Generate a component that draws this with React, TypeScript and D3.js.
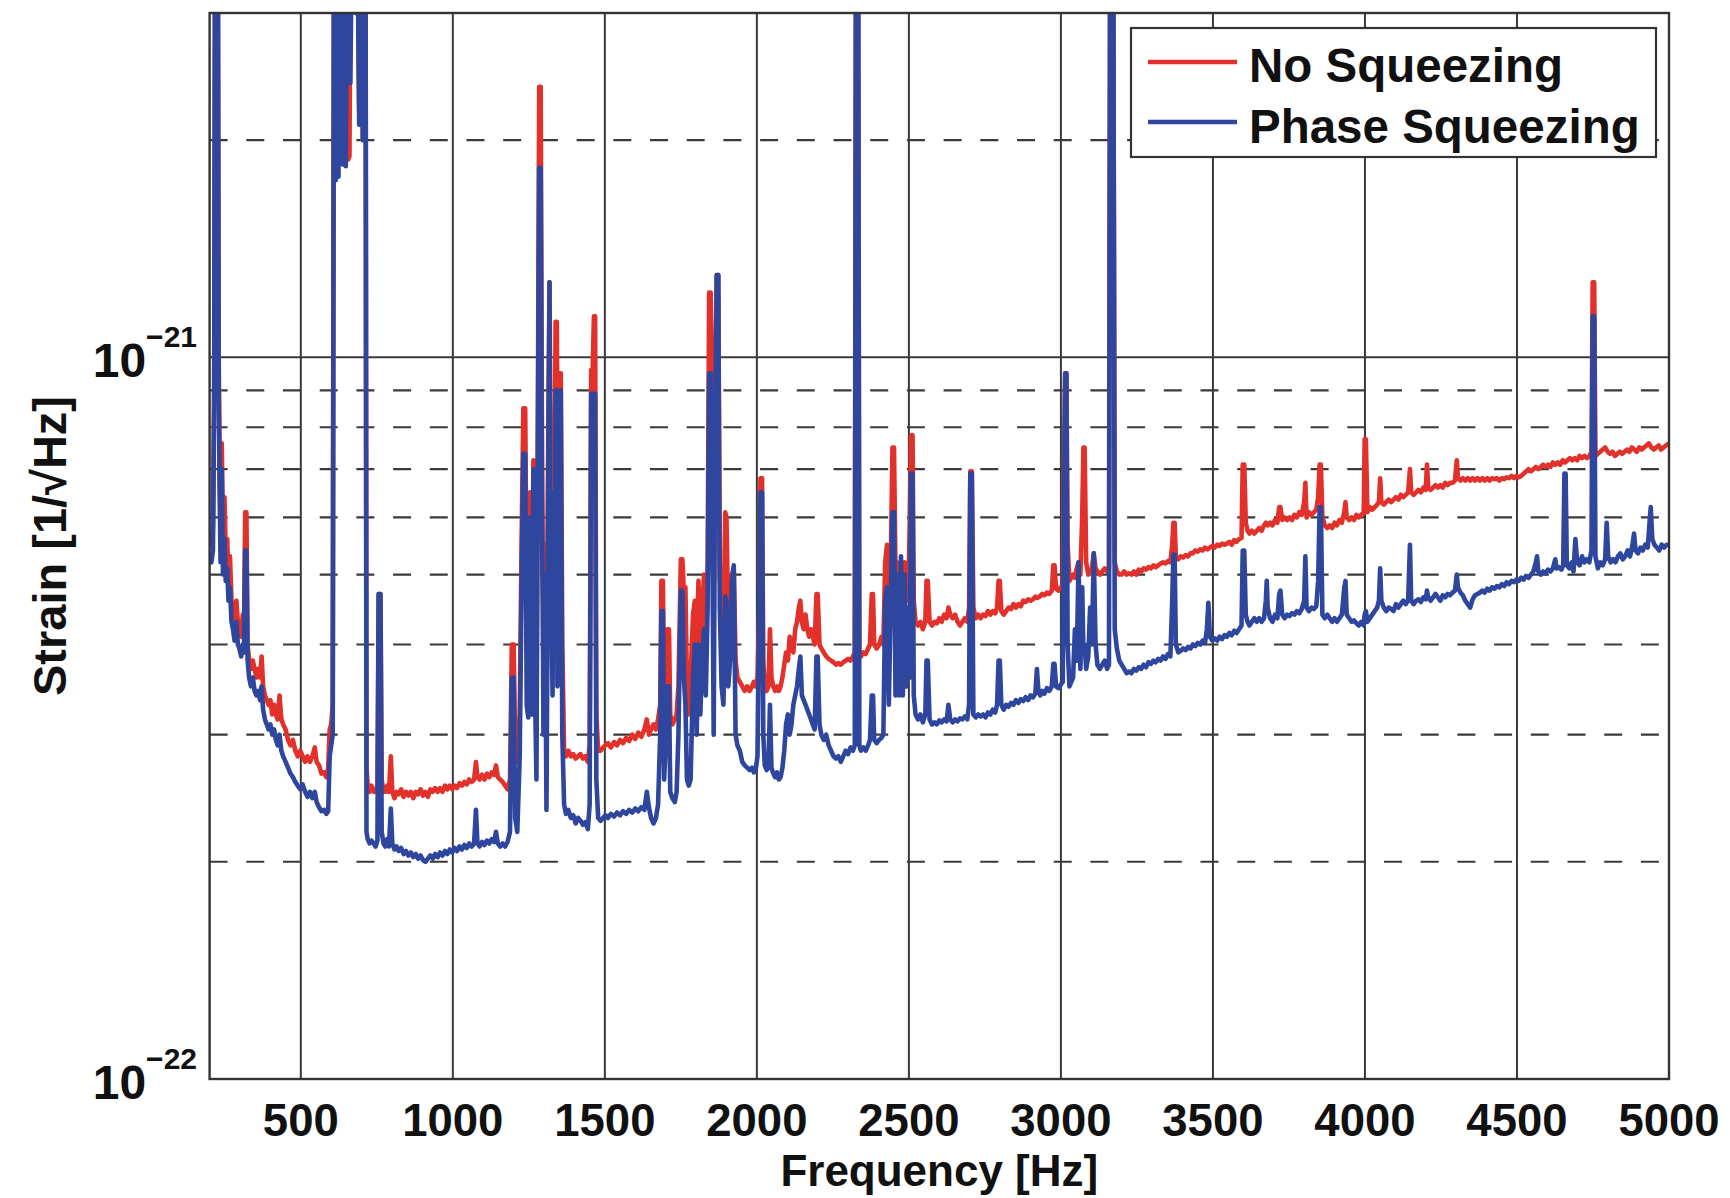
import React from 'react';
import * as d3 from 'd3';

// Frequency ticks (Hz)
const xTicks = [500, 1000, 1500, 2000, 2500, 3000, 3500, 4000, 4500, 5000];
// Strain grid levels
const yMajor = [1e-22, 1e-21];
const yMinor = [2e-22, 3e-22, 4e-22, 5e-22, 6e-22, 7e-22, 8e-22, 9e-22, 2e-21];
const yTickLabels = [
  { v: 1e-22, exp: '\u221222' },
  { v: 1e-21, exp: '\u221221' },
];
const legendLabels = ['No Squeezing', 'Phase Squeezing'];
const seriesColors = ['#e2302a', '#2f469f'];

// Values are in units of 1e-22 strain/sqrt(Hz): [frequency Hz, value]
const noSqueezing: [number, number][] = [
  [200,5.6],[206,5.5],[211,5.8],[215,9],[218,40],[227,40],[230,10],[233,7.2],[236,5.6],[240,7.6],[244,5.7],[249,6.4],[253,5.4],[258,5.6],[262,4.9],[267,5.3],[272,4.6],[277,4.5],[282,4.3],[288,4.6],[293,4.3],[298,4.2],[304,4.1],[309,4.4],[313,4.2],[317,6.1],[321,6.1],[325,4.0],[330,3.8],[336,3.7],[342,3.8],[348,3.7],[354,3.6],[360,3.7],[366,3.6],[371,3.85],[376,3.5],[382,3.4],[388,3.35],[394,3.3],[400,3.35],[406,3.2],[412,3.3],[418,3.2],[424,3.15],[430,3.4],[436,3.15],[442,3.1],[450,3.05],[458,2.95],[466,2.9],[474,2.95],[482,2.85],[490,2.8],[498,2.85],[506,2.8],[514,2.75],[522,2.8],[530,2.75],[538,2.8],[546,2.88],[552,2.75],[560,2.72],[568,2.65],[576,2.66],[584,2.62],[590,2.7],[595,3.05],[600,3.1],[605,3.3],
  [609,40],[615,19],[619,40],[624,18.5],[628,40],[633,40],[638,19.5],[643,40],[648,20],[652,40],[656,18.8],[660,19],[664,40],[668,40],[675,40],[680,30],[686,40],[692,22],[698,40],[704,20],[709,40],[713,40],[716,2.7],
  [720,2.55],[726,2.5],[732,2.55],[740,2.5],[746,2.5],[752,2.55],[756,4.7],[762,4.7],[766,2.6],[772,2.5],[778,2.5],[784,2.55],[790,2.5],[796,2.8],[801,2.5],[808,2.45],[815,2.5],[822,2.48],[830,2.52],[838,2.46],[846,2.5],[854,2.47],[862,2.5],[870,2.45],[878,2.5],[886,2.48],[894,2.52],[902,2.47],[910,2.5],[918,2.46],[926,2.52],[934,2.5],[942,2.53],[950,2.5],[958,2.53],[966,2.5],[974,2.55],[982,2.52],[990,2.55],[998,2.52],[1006,2.55],[1014,2.53],[1022,2.57],[1030,2.55],[1038,2.58],[1046,2.56],[1054,2.6],[1062,2.58],[1070,2.6],[1076,2.75],[1081,2.62],[1088,2.6],[1096,2.64],[1104,2.6],[1112,2.65],[1120,2.62],[1128,2.66],[1136,2.64],[1142,2.72],[1148,2.62],[1156,2.6],[1164,2.58],[1172,2.55],[1180,2.52],[1188,2.6],[1194,4.0],[1200,4.0],[1205,2.9],[1212,2.75],
  [1220,3.2],[1226,5.5],[1232,8.5],[1238,8.5],[1243,4.5],[1248,3.4],[1254,6.5],[1260,3.6],[1265,7.2],[1270,4.0],[1275,3.0],[1280,9],[1284,23.7],[1289,23.7],[1293,8],[1298,3.5],[1303,5.5],[1308,3.0],[1314,8],[1318,12.7],[1323,6],[1328,3.8],[1334,6],[1338,11.2],[1342,11.2],[1346,5],[1350,9.5],[1355,9.5],[1360,4],[1366,2.85],[1372,2.8],[1380,2.85],[1388,2.8],[1396,2.82],[1404,2.78],[1412,2.8],[1420,2.82],[1428,2.78],[1436,2.8],[1444,2.75],[1450,2.9],[1455,9.6],[1460,9.6],[1464,11.4],[1468,11.4],[1472,3.2],[1478,2.85],[1486,2.85],[1494,2.88],[1502,2.9],
  [1510,2.92],[1520,2.88],[1530,2.93],[1540,2.9],[1550,2.95],[1560,2.92],[1570,2.97],[1580,2.94],[1590,3.0],[1600,2.96],[1610,3.02],[1620,2.98],[1630,3.05],[1638,3.15],[1645,3.0],[1652,3.05],[1660,3.1],[1668,3.05],[1675,3.15],[1682,3.3],[1686,4.9],[1691,4.9],[1695,3.2],[1700,3.6],[1706,4.2],[1711,4.2],[1715,3.2],[1722,3.1],[1730,3.15],[1736,3.2],[1742,3.5],[1750,5.25],[1755,5.25],[1760,4.7],[1765,4.8],[1770,3.5],[1776,3.2],[1782,3.6],[1790,4.4],[1796,4.6],[1802,4.0],[1808,4.9],[1814,3.8],[1820,4.4],[1826,5.0],[1832,4.2],[1838,5.0],[1843,12.3],[1848,12.3],[1853,9],[1858,4.5],[1863,9],[1868,13],[1873,13],[1878,5],[1884,4.5],[1890,4.2],[1896,6.1],[1900,6.0],[1906,4.2],[1912,4.5],[1918,5.0],[1924,5.1],[1930,3.8],[1936,3.6],[1944,3.55],[1952,3.5],[1960,3.45],[1968,3.5],[1976,3.45],[1984,3.5],[1990,3.55],[1996,3.5],[2002,3.6],
  [2008,4.5],[2012,6.8],[2017,6.8],[2021,3.8],[2026,3.5],[2032,3.45],[2038,3.5],[2043,4.2],[2048,3.6],[2054,3.5],[2060,3.45],[2066,3.5],[2072,3.45],[2078,3.5],[2084,3.6],[2090,3.75],[2096,3.9],[2102,3.8],[2108,4.1],[2114,4.0],[2120,3.9],[2126,4.2],[2132,4.3],[2138,4.5],[2143,4.6],[2148,4.3],[2154,4.2],[2160,4.4],[2166,4.2],[2172,4.1],[2178,4.2],[2184,4.1],[2190,4.0],[2196,4.7],[2200,4.7],[2206,4.0],[2212,3.95],[2220,3.9],[2228,3.85],[2236,3.82],[2244,3.8],[2252,3.78],[2260,3.75],[2268,3.77],[2276,3.75],[2284,3.78],[2292,3.8],[2300,3.82],[2308,3.8],[2316,3.85],[2322,3.9],[2326,40],[2333,40],[2337,3.9],[2342,3.85],[2350,3.9],[2358,3.88],[2366,3.95],[2372,4.0],[2378,4.7],[2382,4.7],[2386,4.0],[2394,3.95],[2402,4.0],[2410,4.1],[2416,4.0],
  [2422,5.2],[2428,5.5],[2434,4.3],[2440,5.0],[2446,7.5],[2451,7.5],[2456,5.0],[2462,5.2],[2468,4.6],[2474,5.1],[2480,4.4],[2486,5.2],[2492,5.0],[2498,4.6],[2503,6.0],[2507,7.8],[2512,7.8],[2516,4.6],[2522,4.3],[2530,4.25],[2538,4.3],[2546,4.2],[2554,4.3],[2558,4.9],[2562,4.9],[2568,4.3],[2576,4.25],[2584,4.3],[2592,4.28],[2600,4.35],[2608,4.3],[2616,4.4],[2624,4.35],[2630,4.5],[2636,4.4],[2644,4.35],[2652,4.4],[2660,4.3],[2668,4.25],[2676,4.3],[2684,4.35],[2692,4.3],[2698,4.5],[2702,6.95],[2707,6.95],[2712,4.5],[2720,4.35],[2728,4.4],[2736,4.35],[2744,4.4],[2752,4.38],[2760,4.45],[2768,4.4],[2776,4.45],[2784,4.42],[2790,4.5],[2795,4.9],[2799,4.9],[2804,4.45],[2812,4.4],[2820,4.45],[2828,4.5],[2836,4.48],[2844,4.55],[2852,4.5],[2860,4.55],[2868,4.52],[2876,4.6],[2884,4.58],[2892,4.62],[2900,4.6],[2908,4.62],[2916,4.66],[2922,4.64],[2930,4.66],[2938,4.7],[2946,4.68],[2954,4.72],[2962,4.7],[2970,4.75],[2975,5.15],[2979,5.15],[2984,4.78],[2992,4.75],[3000,4.8],[3006,4.85],
  [3010,7],[3014,9.5],[3018,9.5],[3022,5.5],[3028,4.9],[3034,4.95],[3040,5.0],[3046,4.95],[3052,5.1],[3058,5.2],[3064,5.0],[3070,6.0],[3074,7.5],[3078,7.5],[3083,5.2],[3090,5.0],[3096,5.05],[3102,5.1],[3108,5.35],[3114,5.1],[3120,5.05],[3128,5.0],[3136,5.05],[3144,5.1],[3152,5.05],[3158,5.1],[3162,40],[3172,40],[3177,5.2],[3184,5.05],[3192,5.0],[3200,5.0],[3208,5.05],[3216,5.0],[3224,5.02],[3232,5.0],[3240,5.05],[3248,5.0],[3256,5.08],[3264,5.05],[3272,5.1],[3280,5.08],[3288,5.12],[3296,5.1],[3304,5.15],[3312,5.12],[3320,5.15],[3328,5.18],[3336,5.2],[3344,5.18],[3352,5.22],[3360,5.2],[3366,5.5],[3370,5.9],[3374,5.9],[3378,5.3],[3386,5.25],[3394,5.3],[3402,5.28],[3410,5.32],[3418,5.3],[3426,5.35],[3434,5.35],[3442,5.4],[3450,5.38],[3458,5.42],[3466,5.4],[3474,5.45],[3482,5.42],[3490,5.45],[3498,5.48],[3506,5.45],[3514,5.5],[3522,5.48],[3530,5.52],[3538,5.5],[3546,5.52],[3554,5.55],[3562,5.5],[3570,5.58],[3578,5.55],[3586,5.6],[3594,5.62],
  [3598,7.1],[3603,7.1],[3608,5.9],[3614,5.75],[3620,5.7],[3628,5.75],[3636,5.7],[3644,5.75],[3652,5.8],[3660,5.75],[3668,5.85],[3674,5.9],[3680,5.85],[3688,5.9],[3696,5.85],[3704,5.95],[3712,5.9],[3718,6.2],[3722,6.2],[3728,5.95],[3736,6.0],[3744,5.95],[3752,6.0],[3760,5.95],[3768,6.05],[3776,6.0],[3784,6.1],[3792,6.05],[3800,6.3],[3804,6.7],[3808,6.0],[3816,6.1],[3824,6.05],[3832,6.1],[3840,6.15],[3846,6.4],[3851,7.1],[3855,7.1],[3860,6.0],[3868,5.85],[3876,5.8],[3884,5.85],[3892,5.8],[3900,5.9],[3908,5.85],[3916,5.95],[3924,5.9],[3932,6.1],[3936,6.3],[3940,6.0],[3948,5.95],[3956,6.0],[3964,5.95],[3972,6.05],[3980,6.0],[3988,6.05],[3996,6.1],
  [3999,7.7],[4003,7.7],[4008,6.1],[4016,6.2],[4024,6.15],[4032,6.2],[4040,6.25],[4046,6.3],[4050,6.8],[4054,6.3],[4062,6.25],[4070,6.3],[4078,6.35],[4086,6.3],[4094,6.35],[4102,6.4],[4110,6.35],[4118,6.45],[4126,6.4],[4134,6.45],[4142,6.5],[4148,7.0],[4152,6.5],[4160,6.45],[4168,6.5],[4176,6.55],[4184,6.5],[4192,6.6],[4200,6.55],[4204,7.1],[4208,6.6],[4216,6.55],[4224,6.6],[4232,6.65],[4240,6.6],[4248,6.65],[4256,6.6],[4264,6.7],[4272,6.65],[4280,6.7],[4288,6.7],[4296,6.75],[4302,7.2],[4306,6.8],[4314,6.75],[4322,6.8],[4330,6.75],[4338,6.8],[4346,6.75],[4354,6.8],[4362,6.75],[4370,6.8],[4378,6.75],[4386,6.8],[4394,6.75],[4402,6.8],[4410,6.75],[4418,6.8],[4426,6.78],[4434,6.8],[4442,6.75],[4450,6.8],[4458,6.78],[4466,6.82],[4474,6.8],[4482,6.85],[4490,6.8],[4498,6.85],[4506,6.82],[4514,6.85],[4522,6.9],[4530,6.95],[4538,7.0],[4546,6.95],[4554,7.0],[4562,7.05],[4570,7.0],[4578,7.05],[4586,7.1],[4594,7.05],[4602,7.1],[4610,7.05],[4618,7.15],[4626,7.1],[4634,7.15],[4642,7.1],[4650,7.2],[4658,7.15],[4666,7.2],[4674,7.25],[4682,7.2],[4690,7.25],[4698,7.2],[4706,7.3],[4714,7.25],[4722,7.3],[4730,7.25],[4738,7.3],[4745,7.4],
  [4749,12.7],[4754,12.7],[4758,7.3],[4766,7.35],[4774,7.4],[4782,7.45],[4790,7.5],[4798,7.4],[4806,7.35],[4814,7.4],[4822,7.3],[4830,7.35],[4838,7.4],[4846,7.35],[4854,7.4],[4862,7.45],[4870,7.4],[4878,7.5],[4886,7.45],[4894,7.4],[4902,7.5],[4910,7.45],[4918,7.5],[4926,7.55],[4934,7.6],[4942,7.5],[4950,7.45],[4958,7.5],[4966,7.55],[4974,7.45],[4982,7.5],[4990,7.55],[5000,7.6],
];

const phaseSqueezing: [number, number][] = [
  [200,5.3],[206,5.2],[211,5.4],[215,8.5],[218,40],[227,40],[230,9],[233,6.6],[236,5.2],[240,7.0],[244,5.0],[249,5.6],[253,4.9],[258,5.1],[262,4.6],[267,4.8],[272,4.3],[277,4.2],[282,4.05],[288,4.3],[293,4.0],[298,3.95],[304,3.85],[309,4.0],[313,3.9],[317,5.4],[321,5.4],[325,3.8],[330,3.6],[336,3.5],[342,3.6],[348,3.45],[354,3.4],[360,3.45],[366,3.35],[371,3.5],[376,3.25],[382,3.15],[388,3.1],[394,3.05],[400,3.1],[406,3.0],[412,3.05],[418,2.95],[424,2.9],[430,3.0],[436,2.85],[442,2.8],[450,2.75],[458,2.7],[466,2.65],[474,2.62],[482,2.58],[490,2.55],[498,2.52],[506,2.56],[514,2.5],[522,2.46],[530,2.5],[538,2.45],[546,2.5],[552,2.42],[560,2.38],[568,2.35],[576,2.36],[584,2.33],[590,2.35],[595,2.8],[600,2.9],[605,3.0],
  [609,40],[615,17.6],[619,40],[624,17.8],[628,40],[633,40],[638,18.5],[643,40],[648,18.4],[652,40],[658,40],[663,24],[668,40],[675,40],[680,30],[686,40],[692,21],[698,40],[704,20],[709,40],[713,40],[716,2.2],
  [720,2.15],[726,2.12],[732,2.14],[740,2.12],[746,2.1],[752,2.14],[756,4.7],[762,4.7],[766,2.2],[772,2.12],[778,2.1],[784,2.15],[790,2.1],[796,2.37],[801,2.12],[808,2.08],[815,2.1],[822,2.07],[830,2.09],[838,2.05],[846,2.07],[854,2.04],[862,2.06],[870,2.03],[878,2.05],[886,2.02],[894,2.04],[902,2.01],[910,2.0],[918,2.02],[926,2.04],[934,2.02],[942,2.05],[950,2.03],[958,2.06],[966,2.04],[974,2.07],[982,2.05],[990,2.08],[998,2.06],[1006,2.09],[1014,2.07],[1022,2.1],[1030,2.08],[1038,2.11],[1046,2.09],[1054,2.12],[1062,2.1],[1070,2.12],[1076,2.36],[1081,2.12],[1088,2.1],[1096,2.13],[1104,2.11],[1112,2.14],[1120,2.12],[1128,2.15],[1136,2.13],[1142,2.2],[1148,2.12],[1156,2.1],[1164,2.12],[1172,2.1],[1180,2.13],[1188,2.2],[1194,3.6],[1200,3.6],[1205,2.3],[1212,2.2],
  [1220,2.8],[1226,4.8],[1232,7.35],[1238,7.35],[1243,3.3],[1248,3.17],[1251,5.5],[1254,6.0],[1257,3.4],[1260,3.2],[1265,7.0],[1268,4.5],[1270,3.5],[1275,2.6],[1280,8],[1284,18.3],[1289,18.3],[1293,6],[1296,4.5],[1298,3.0],[1303,5.0],[1308,2.36],[1314,7],[1318,12.7],[1321,4],[1323,5],[1328,3.4],[1331,6.5],[1334,5.5],[1336,4],[1338,9],[1342,9],[1344,3.5],[1346,3.6],[1350,8.5],[1355,9.0],[1360,3.0],[1366,2.4],[1372,2.33],[1380,2.36],[1388,2.3],[1396,2.32],[1404,2.26],[1412,2.3],[1420,2.28],[1428,2.25],[1436,2.27],[1444,2.22],[1450,2.4],[1455,8.9],[1460,8.9],[1464,8.9],[1468,8.9],[1472,2.6],[1478,2.3],[1486,2.28],[1494,2.3],[1502,2.32],
  [1510,2.3],[1520,2.33],[1530,2.31],[1540,2.34],[1550,2.32],[1560,2.35],[1570,2.33],[1580,2.36],[1590,2.34],[1600,2.37],[1610,2.35],[1620,2.38],[1630,2.36],[1638,2.5],[1645,2.38],[1652,2.3],[1660,2.26],[1668,2.3],[1675,2.4],[1682,3.0],[1686,4.45],[1691,4.45],[1695,2.6],[1700,2.9],[1706,3.5],[1711,3.5],[1715,2.5],[1722,2.45],[1730,2.42],[1736,2.5],[1742,3.0],[1750,4.75],[1755,4.75],[1760,3.6],[1765,3.3],[1770,2.6],[1776,2.55],[1782,2.6],[1790,3.6],[1796,4.0],[1802,3.0],[1808,4.0],[1814,3.2],[1820,3.8],[1826,4.2],[1832,3.4],[1838,4.5],[1843,9.5],[1848,9.5],[1853,6],[1858,3.0],[1863,8],[1868,13],[1873,13],[1878,4.5],[1884,3.5],[1890,3.3],[1896,4.66],[1900,4.6],[1906,3.5],[1912,3.8],[1918,4.9],[1924,5.15],[1930,3.0],[1936,2.9],[1944,2.85],[1952,2.75],[1960,2.72],[1968,2.7],[1976,2.68],[1984,2.7],[1990,2.66],[1996,2.68],[2002,2.8],
  [2008,4.5],[2012,6.5],[2017,6.5],[2021,3.0],[2026,2.72],[2032,2.68],[2038,2.7],[2043,3.3],[2048,2.7],[2054,2.65],[2060,2.62],[2066,2.66],[2072,2.6],[2078,2.62],[2084,2.7],[2090,2.85],[2096,3.1],[2102,3.2],[2108,3.0],[2114,3.1],[2120,3.3],[2126,3.4],[2132,3.5],[2138,3.7],[2143,3.85],[2148,3.4],[2154,3.35],[2160,3.3],[2166,3.25],[2172,3.2],[2178,3.15],[2184,3.1],[2190,3.05],[2196,3.85],[2200,3.85],[2206,3.1],[2212,3.0],[2220,2.95],[2228,3.0],[2236,2.9],[2244,2.85],[2252,2.8],[2260,2.78],[2268,2.8],[2276,2.75],[2284,2.8],[2292,2.85],[2300,2.82],[2308,2.88],[2316,2.85],[2322,2.9],[2326,40],[2333,40],[2337,2.9],[2342,2.85],[2350,2.88],[2358,2.85],[2366,2.9],[2372,2.95],[2378,3.4],[2382,3.4],[2386,2.95],[2394,2.92],[2402,2.95],[2410,2.97],[2416,3.0],
  [2422,4.6],[2428,4.8],[2434,3.3],[2440,4.5],[2446,6.1],[2451,6.1],[2456,3.4],[2462,5.0],[2468,3.4],[2474,5.3],[2480,3.4],[2486,5.0],[2492,3.5],[2498,4.5],[2503,3.6],[2507,6.9],[2512,6.9],[2516,3.4],[2522,3.2],[2530,3.15],[2538,3.2],[2546,3.12],[2554,3.2],[2558,3.8],[2562,3.8],[2568,3.15],[2576,3.1],[2584,3.12],[2592,3.1],[2600,3.14],[2608,3.12],[2616,3.15],[2624,3.13],[2630,3.3],[2636,3.15],[2644,3.12],[2652,3.15],[2660,3.13],[2668,3.16],[2676,3.15],[2684,3.18],[2692,3.15],[2698,3.3],[2702,6.9],[2707,6.9],[2712,3.2],[2720,3.17],[2728,3.2],[2736,3.18],[2744,3.2],[2752,3.17],[2760,3.22],[2768,3.2],[2776,3.25],[2784,3.22],[2790,3.3],[2795,3.8],[2799,3.8],[2804,3.3],[2812,3.25],[2820,3.3],[2828,3.28],[2836,3.32],[2844,3.3],[2852,3.35],[2860,3.32],[2868,3.36],[2876,3.34],[2884,3.38],[2892,3.35],[2900,3.4],[2908,3.38],[2916,3.42],[2921,3.7],[2926,3.45],[2932,3.4],[2938,3.45],[2946,3.42],[2954,3.48],[2962,3.45],[2970,3.5],[2975,3.76],[2979,3.76],[2984,3.5],[2992,3.48],[3000,3.52],[3006,3.55],
  [3010,6],[3014,9.5],[3018,9.5],[3022,4],[3028,3.5],[3034,3.55],[3040,3.6],[3046,4.2],[3052,3.8],[3058,5.2],[3064,3.7],[3070,4.8],[3074,3.9],[3078,4.0],[3083,3.7],[3090,3.85],[3096,4.5],[3102,4.0],[3108,5.35],[3114,4.0],[3120,3.75],[3128,3.7],[3136,3.75],[3144,3.8],[3152,3.7],[3158,3.75],[3162,40],[3172,40],[3177,4.2],[3184,3.95],[3192,3.8],[3200,3.75],[3208,3.7],[3216,3.65],[3224,3.67],[3232,3.65],[3240,3.7],[3248,3.68],[3256,3.72],[3264,3.7],[3272,3.75],[3280,3.72],[3288,3.78],[3296,3.76],[3304,3.8],[3312,3.78],[3320,3.82],[3328,3.8],[3336,3.85],[3344,3.82],[3352,3.88],[3360,3.85],[3366,4.6],[3370,5.33],[3374,5.33],[3378,4.0],[3386,3.9],[3394,3.92],[3402,3.95],[3410,3.93],[3418,3.97],[3426,3.95],[3434,4.0],[3442,3.98],[3450,4.02],[3458,4.0],[3466,4.05],[3474,4.02],[3480,4.2],[3485,4.57],[3490,4.1],[3498,4.05],[3506,4.08],[3514,4.05],[3522,4.1],[3530,4.07],[3538,4.12],[3546,4.1],[3554,4.15],[3562,4.12],[3570,4.18],[3578,4.15],[3586,4.2],[3594,4.25],
  [3598,5.4],[3603,5.4],[3608,4.4],[3614,4.3],[3620,4.25],[3628,4.3],[3636,4.35],[3644,4.3],[3652,4.35],[3660,4.3],[3668,4.35],[3674,4.6],[3677,4.9],[3680,4.5],[3688,4.35],[3696,4.3],[3704,4.4],[3712,4.35],[3718,4.7],[3722,4.75],[3728,4.4],[3736,4.35],[3744,4.4],[3752,4.38],[3760,4.42],[3768,4.4],[3776,4.45],[3784,4.42],[3792,4.48],[3800,4.6],[3804,5.3],[3808,4.5],[3816,4.45],[3824,4.5],[3832,4.48],[3840,4.52],[3846,4.9],[3851,6.2],[3855,6.2],[3860,4.4],[3868,4.35],[3876,4.4],[3884,4.35],[3892,4.3],[3900,4.35],[3908,4.3],[3916,4.35],[3924,4.4],[3932,4.8],[3936,4.9],[3940,4.4],[3948,4.35],[3956,4.3],[3964,4.32],[3972,4.28],[3980,4.25],[3988,4.3],[3996,4.25],
  [3999,4.4],[4003,4.45],[4008,4.3],[4016,4.35],[4024,4.4],[4032,4.45],[4040,4.5],[4046,4.6],[4050,5.1],[4054,4.6],[4062,4.5],[4070,4.45],[4078,4.5],[4086,4.48],[4094,4.45],[4102,4.55],[4110,4.5],[4118,4.55],[4126,4.6],[4134,4.55],[4142,4.6],[4148,5.5],[4152,4.6],[4160,4.55],[4168,4.6],[4176,4.62],[4184,4.58],[4192,4.65],[4200,4.62],[4204,4.75],[4208,4.65],[4216,4.6],[4224,4.65],[4232,4.7],[4240,4.65],[4248,4.6],[4256,4.68],[4264,4.65],[4272,4.7],[4280,4.68],[4288,4.72],[4296,4.75],[4302,5.0],[4306,4.8],[4314,4.72],[4322,4.68],[4330,4.6],[4338,4.55],[4346,4.5],[4354,4.62],[4362,4.68],[4370,4.7],[4378,4.72],[4386,4.75],[4394,4.72],[4402,4.78],[4410,4.75],[4418,4.8],[4426,4.78],[4434,4.82],[4442,4.8],[4450,4.85],[4458,4.82],[4466,4.88],[4474,4.85],[4482,4.9],[4490,4.88],[4498,4.92],[4506,4.9],[4514,4.95],[4522,4.92],[4530,4.98],[4538,4.95],[4546,5.0],[4554,5.05],[4562,5.2],[4566,5.3],[4570,5.05],[4578,5.0],[4586,5.05],[4594,5.02],[4602,5.08],[4610,5.05],[4618,5.1],[4626,5.25],[4630,5.1],[4638,5.12],[4646,5.08],[4652,5.15],[4656,6.9],[4660,6.9],[4664,5.15],[4672,5.1],[4680,5.2],[4686,5.05],[4692,5.6],[4698,5.2],[4706,5.15],[4714,5.3],[4722,5.2],[4730,5.25],[4738,5.2],[4745,5.4],
  [4749,11.4],[4754,11.4],[4758,5.3],[4766,5.1],[4774,5.2],[4782,5.15],[4790,5.25],[4795,5.9],[4800,5.3],[4808,5.2],[4816,5.25],[4824,5.2],[4832,5.3],[4840,5.35],[4848,5.25],[4856,5.3],[4864,5.4],[4872,5.3],[4880,5.5],[4885,5.7],[4890,5.4],[4898,5.35],[4906,5.45],[4914,5.4],[4922,5.5],[4930,5.45],[4936,5.9],[4940,6.2],[4945,5.6],[4952,5.5],[4960,5.45],[4968,5.4],[4976,5.5],[4984,5.45],[4992,5.5],[5000,5.5],
];

const W = 1730;
const H = 1198;
const LEFT = 209.6;
const RIGHT = 1669;
const TOP = 13;
const BOTTOM = 1079;
const FONT = '"Liberation Sans", Arial, Helvetica, sans-serif';
const GRID = '#3a3a3a';

export default function App() {
  const x = d3.scaleLinear().domain([200, 5000]).range([LEFT, RIGHT]);
  const y = d3.scaleLog().domain([1e-22, 3e-21]).range([BOTTOM, TOP]);
  const line = d3
    .line<[number, number]>()
    .x((d) => x(d[0]))
    .y((d) => y(d[1] * 1e-22));

  const series = [noSqueezing, phaseSqueezing];

  return (
    <svg
      width={W}
      height={H}
      viewBox={`0 0 ${W} ${H}`}
      style={{ position: 'absolute', left: 0, top: 0, background: '#fff' }}
      fontFamily={FONT}
    >
      <defs>
        <clipPath id="plotClip">
          <rect x={LEFT} y={TOP} width={RIGHT - LEFT} height={BOTTOM - TOP} />
        </clipPath>
      </defs>
      <rect x={0} y={0} width={W} height={H} fill="#fff" />

      {/* grid */}
      {xTicks.filter((t) => t < 5000).map((t) => (
        <line key={'gx' + t} x1={x(t)} x2={x(t)} y1={TOP} y2={BOTTOM} stroke={GRID} strokeWidth={2} />
      ))}
      {yMajor.map((v) => (
        <line key={'gy' + v} x1={LEFT} x2={RIGHT} y1={y(v)} y2={y(v)} stroke={GRID} strokeWidth={2} />
      ))}
      {yMinor.map((v) => (
        <line
          key={'gm' + v}
          x1={LEFT}
          x2={RIGHT}
          y1={y(v)}
          y2={y(v)}
          stroke={GRID}
          strokeWidth={2.2}
          strokeDasharray="18 18.7"
        />
      ))}

      {/* data */}
      <g clipPath="url(#plotClip)">
        {series.map((s, i) => (
          <path
            key={'s' + i}
            d={line(s) || ''}
            fill="none"
            stroke={seriesColors[i]}
            strokeWidth={4.6}
            strokeLinejoin="round"
            strokeLinecap="round"
          />
        ))}
      </g>

      {/* axes box */}
      <rect x={LEFT} y={TOP} width={RIGHT - LEFT} height={BOTTOM - TOP} fill="none" stroke="#333" strokeWidth={2.4} />

      {/* x tick labels */}
      {xTicks.map((t) => (
        <text key={'xl' + t} x={x(t)} y={1136} textAnchor="middle" fontSize={45.5} fontWeight="bold" fill="#111">
          {t}
        </text>
      ))}
      {/* y tick labels */}
      {yTickLabels.map((t) => (
        <text key={'yl' + t.exp} x={197} y={y(t.v) + 20} textAnchor="end" fontWeight="bold" fill="#111" fontSize={48}>
          10
          <tspan dy={-30} fontSize={30}>
            {t.exp}
          </tspan>
        </text>
      ))}

      {/* axis titles */}
      <text x={(LEFT + RIGHT) / 2} y={1186} textAnchor="middle" fontSize={44} fontWeight="bold" fill="#111">
        Frequency [Hz]
      </text>
      <text
        transform={`translate(66, ${(TOP + BOTTOM) / 2}) rotate(-90)`}
        textAnchor="middle"
        fontSize={47}
        fontWeight="bold"
        fill="#111"
      >
        Strain [1/√Hz]
      </text>

      {/* legend */}
      <rect x={1131} y={28} width={525} height={129} fill="#fff" stroke="#333" strokeWidth={2.2} />
      {legendLabels.map((lab, i) => (
        <g key={'lg' + i}>
          <line x1={1148} x2={1237} y1={62 + i * 60} y2={62 + i * 60} stroke={seriesColors[i]} strokeWidth={4.6} />
          <text x={1249} y={82 + i * 61} fontSize={47.5} fontWeight="bold" fill="#111">
            {lab}
          </text>
        </g>
      ))}
    </svg>
  );
}
